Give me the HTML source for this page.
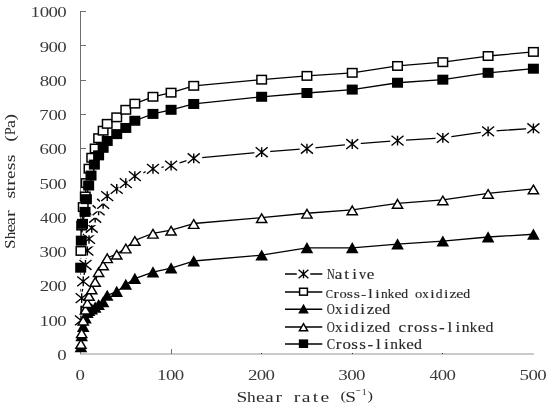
<!DOCTYPE html>
<html><head><meta charset="utf-8"><style>
html,body{margin:0;padding:0;background:#fff;width:550px;height:405px;overflow:hidden}
svg{display:block;will-change:transform}
</style></head><body>
<svg width="550" height="405" viewBox="0 0 550 405">
<rect width="550" height="405" fill="#fff"/>
<line x1="80.5" y1="11" x2="80.5" y2="354" stroke="#6e6e6e" stroke-width="1"/>
<line x1="80" y1="354" x2="534" y2="354" stroke="#959595" stroke-width="1"/>
<line x1="80" y1="319.5" x2="86" y2="319.5" stroke="#6e6e6e" stroke-width="1"/>
<line x1="80" y1="285.5" x2="86" y2="285.5" stroke="#6e6e6e" stroke-width="1"/>
<line x1="80" y1="251.5" x2="86" y2="251.5" stroke="#6e6e6e" stroke-width="1"/>
<line x1="80" y1="216.5" x2="86" y2="216.5" stroke="#6e6e6e" stroke-width="1"/>
<line x1="80" y1="182.5" x2="86" y2="182.5" stroke="#6e6e6e" stroke-width="1"/>
<line x1="80" y1="148.5" x2="86" y2="148.5" stroke="#6e6e6e" stroke-width="1"/>
<line x1="80" y1="114.5" x2="86" y2="114.5" stroke="#6e6e6e" stroke-width="1"/>
<line x1="80" y1="80.5" x2="86" y2="80.5" stroke="#6e6e6e" stroke-width="1"/>
<line x1="80" y1="45.5" x2="86" y2="45.5" stroke="#6e6e6e" stroke-width="1"/>
<line x1="80" y1="11.5" x2="86" y2="11.5" stroke="#6e6e6e" stroke-width="1"/>
<line x1="171.5" y1="349" x2="171.5" y2="354" stroke="#6e6e6e" stroke-width="1"/>
<rect x="261.0" y="353" width="1" height="1" fill="#333"/>
<rect x="352.0" y="353" width="1" height="1" fill="#333"/>
<rect x="442.0" y="353" width="1" height="1" fill="#333"/>
<path d="M80.95,320.44 L81.68,298.17 L83.22,281.39 L85.48,264.95 L87.38,250.56 L89.01,238.92 L91.73,227.75 L95.17,217.69 L98.62,210.29 L103.14,203.81 L107.22,196.11 L116.73,188.91 L125.79,183.09 L134.85,176.11 L152.96,168.91 L171.08,165.62 L193.73,158.30 L261.66,152.20 L306.95,148.71 L352.24,144.05 L397.53,140.62 L442.82,137.88 L488.11,131.37 L533.40,128.29" fill="none" stroke="#000" stroke-width="1.30" stroke-linejoin="round"/>
<path d="M80.95,250.91 L81.68,225.56 L83.22,207.07 L85.30,196.45 L86.30,183.09 L89.01,168.71 L91.73,157.75 L95.17,148.50 L98.62,138.22 L103.14,130.69 L107.22,123.84 L116.73,117.33 L125.79,109.80 L134.85,103.63 L152.96,96.78 L171.08,92.67 L193.73,85.82 L261.66,79.66 L306.95,75.89 L352.24,72.81 L397.53,65.96 L442.82,62.19 L488.11,56.02 L533.40,51.91" fill="none" stroke="#000" stroke-width="1.30" stroke-linejoin="round"/>
<path d="M80.95,346.81 L81.68,335.85 L83.22,326.60 L85.48,318.04 L87.38,312.56 L89.01,310.50 L91.73,309.13 L95.17,307.42 L98.62,304.68 L103.14,301.94 L107.22,295.43 L116.73,291.66 L125.79,284.47 L134.85,278.65 L152.96,272.14 L171.08,268.03 L193.73,261.01 L261.66,255.19 L306.95,247.82 L352.24,247.82 L397.53,244.06 L442.82,241.21 L488.11,237.00 L533.40,234.23" fill="none" stroke="#000" stroke-width="1.30" stroke-linejoin="round"/>
<path d="M80.95,343.38 L81.68,332.76 L83.22,320.09 L85.48,309.13 L87.38,302.62 L89.01,295.43 L91.73,288.93 L95.17,281.39 L98.62,271.63 L103.14,264.95 L107.22,257.76 L116.73,254.16 L125.79,248.00 L134.85,240.46 L152.96,233.27 L171.08,230.19 L193.73,223.51 L261.66,217.69 L306.95,213.23 L352.24,209.81 L397.53,203.30 L442.82,199.88 L488.11,193.37 L533.40,188.91" fill="none" stroke="#000" stroke-width="1.30" stroke-linejoin="round"/>
<path d="M80.68,267.69 L81.32,240.63 L82.49,223.85 L85.03,211.86 L86.39,199.19 L88.65,185.49 L91.01,175.56 L94.36,164.60 L98.62,155.35 L103.14,147.81 L107.22,140.96 L116.73,134.11 L125.79,127.95 L134.85,120.76 L152.96,113.91 L171.08,109.80 L193.73,103.97 L261.66,96.78 L306.95,93.01 L352.24,89.59 L397.53,82.74 L442.82,79.66 L488.11,72.81 L533.40,68.70" fill="none" stroke="#000" stroke-width="1.30" stroke-linejoin="round"/>
<rect x="73.65" y="313.94" width="15.80" height="14.00" fill="#fff"/><path d="M74.95,315.54 L86.95,325.33 M86.95,315.54 L74.95,325.33 M80.95,315.54 L80.95,325.33" stroke="#000" stroke-width="1.40" fill="none"/>
<rect x="74.38" y="291.67" width="15.80" height="14.00" fill="#fff"/><path d="M75.68,293.27 L87.68,303.07 M87.68,293.27 L75.68,303.07 M81.68,293.27 L81.68,303.07" stroke="#000" stroke-width="1.40" fill="none"/>
<rect x="75.92" y="274.89" width="15.80" height="14.00" fill="#fff"/><path d="M77.22,276.49 L89.22,286.29 M89.22,276.49 L77.22,286.29 M83.22,276.49 L83.22,286.29" stroke="#000" stroke-width="1.40" fill="none"/>
<rect x="78.18" y="258.45" width="15.80" height="14.00" fill="#fff"/><path d="M79.48,260.05 L91.48,269.85 M91.48,260.05 L79.48,269.85 M85.48,260.05 L85.48,269.85" stroke="#000" stroke-width="1.40" fill="none"/>
<rect x="80.08" y="244.06" width="15.80" height="14.00" fill="#fff"/><path d="M81.38,245.66 L93.38,255.47 M93.38,245.66 L81.38,255.47 M87.38,245.66 L87.38,255.47" stroke="#000" stroke-width="1.40" fill="none"/>
<rect x="81.71" y="232.42" width="15.80" height="14.00" fill="#fff"/><path d="M83.01,234.02 L95.01,243.82 M95.01,234.02 L83.01,243.82 M89.01,234.02 L89.01,243.82" stroke="#000" stroke-width="1.40" fill="none"/>
<rect x="84.43" y="221.25" width="15.80" height="14.00" fill="#fff"/><path d="M85.73,222.85 L97.73,232.65 M97.73,222.85 L85.73,232.65 M91.73,222.85 L91.73,232.65" stroke="#000" stroke-width="1.40" fill="none"/>
<rect x="87.87" y="211.19" width="15.80" height="14.00" fill="#fff"/><path d="M89.17,212.78 L101.17,222.59 M101.17,212.78 L89.17,222.59 M95.17,212.78 L95.17,222.59" stroke="#000" stroke-width="1.40" fill="none"/>
<rect x="91.32" y="203.79" width="15.80" height="14.00" fill="#fff"/><path d="M92.62,205.39 L104.62,215.19 M104.62,205.39 L92.62,215.19 M98.62,205.39 L98.62,215.19" stroke="#000" stroke-width="1.40" fill="none"/>
<rect x="95.84" y="197.31" width="15.80" height="14.00" fill="#fff"/><path d="M97.14,198.91 L109.14,208.71 M109.14,198.91 L97.14,208.71 M103.14,198.91 L103.14,208.71" stroke="#000" stroke-width="1.40" fill="none"/>
<rect x="99.92" y="189.61" width="15.80" height="14.00" fill="#fff"/><path d="M101.22,191.21 L113.22,201.01 M113.22,191.21 L101.22,201.01 M107.22,191.21 L107.22,201.01" stroke="#000" stroke-width="1.40" fill="none"/>
<rect x="109.43" y="182.41" width="15.80" height="14.00" fill="#fff"/><path d="M110.73,184.01 L122.73,193.81 M122.73,184.01 L110.73,193.81 M116.73,184.01 L116.73,193.81" stroke="#000" stroke-width="1.40" fill="none"/>
<rect x="118.49" y="176.59" width="15.80" height="14.00" fill="#fff"/><path d="M119.79,178.19 L131.79,187.99 M131.79,178.19 L119.79,187.99 M125.79,178.19 L125.79,187.99" stroke="#000" stroke-width="1.40" fill="none"/>
<rect x="127.55" y="169.61" width="15.80" height="14.00" fill="#fff"/><path d="M128.85,171.21 L140.85,181.01 M140.85,171.21 L128.85,181.01 M134.85,171.21 L134.85,181.01" stroke="#000" stroke-width="1.40" fill="none"/>
<rect x="145.66" y="162.41" width="15.80" height="14.00" fill="#fff"/><path d="M146.96,164.01 L158.96,173.81 M158.96,164.01 L146.96,173.81 M152.96,164.01 L152.96,173.81" stroke="#000" stroke-width="1.40" fill="none"/>
<rect x="163.78" y="159.12" width="15.80" height="14.00" fill="#fff"/><path d="M165.08,160.72 L177.08,170.52 M177.08,160.72 L165.08,170.52 M171.08,160.72 L171.08,170.52" stroke="#000" stroke-width="1.40" fill="none"/>
<rect x="186.43" y="151.80" width="15.80" height="14.00" fill="#fff"/><path d="M187.73,153.40 L199.73,163.20 M199.73,153.40 L187.73,163.20 M193.73,153.40 L193.73,163.20" stroke="#000" stroke-width="1.40" fill="none"/>
<rect x="254.36" y="145.70" width="15.80" height="14.00" fill="#fff"/><path d="M255.66,147.30 L267.66,157.10 M267.66,147.30 L255.66,157.10 M261.66,147.30 L261.66,157.10" stroke="#000" stroke-width="1.40" fill="none"/>
<rect x="299.65" y="142.21" width="15.80" height="14.00" fill="#fff"/><path d="M300.95,143.81 L312.95,153.61 M312.95,143.81 L300.95,153.61 M306.95,143.81 L306.95,153.61" stroke="#000" stroke-width="1.40" fill="none"/>
<rect x="344.94" y="137.55" width="15.80" height="14.00" fill="#fff"/><path d="M346.24,139.15 L358.24,148.95 M358.24,139.15 L346.24,148.95 M352.24,139.15 L352.24,148.95" stroke="#000" stroke-width="1.40" fill="none"/>
<rect x="390.23" y="134.12" width="15.80" height="14.00" fill="#fff"/><path d="M391.53,135.72 L403.53,145.52 M403.53,135.72 L391.53,145.52 M397.53,135.72 L397.53,145.52" stroke="#000" stroke-width="1.40" fill="none"/>
<rect x="435.52" y="131.38" width="15.80" height="14.00" fill="#fff"/><path d="M436.82,132.98 L448.82,142.78 M448.82,132.98 L436.82,142.78 M442.82,132.98 L442.82,142.78" stroke="#000" stroke-width="1.40" fill="none"/>
<rect x="480.81" y="124.87" width="15.80" height="14.00" fill="#fff"/><path d="M482.11,126.47 L494.11,136.27 M494.11,126.47 L482.11,136.27 M488.11,126.47 L488.11,136.27" stroke="#000" stroke-width="1.40" fill="none"/>
<rect x="526.10" y="121.79" width="15.80" height="14.00" fill="#fff"/><path d="M527.40,123.39 L539.40,133.19 M539.40,123.39 L527.40,133.19 M533.40,123.39 L533.40,133.19" stroke="#000" stroke-width="1.40" fill="none"/>
<rect x="76.20" y="246.66" width="9.50" height="8.50" fill="#fff" stroke="#000" stroke-width="1.50"/>
<rect x="76.93" y="221.31" width="9.50" height="8.50" fill="#fff" stroke="#000" stroke-width="1.50"/>
<rect x="78.47" y="202.82" width="9.50" height="8.50" fill="#fff" stroke="#000" stroke-width="1.50"/>
<rect x="80.55" y="192.20" width="9.50" height="8.50" fill="#fff" stroke="#000" stroke-width="1.50"/>
<rect x="81.55" y="178.84" width="9.50" height="8.50" fill="#fff" stroke="#000" stroke-width="1.50"/>
<rect x="84.26" y="164.46" width="9.50" height="8.50" fill="#fff" stroke="#000" stroke-width="1.50"/>
<rect x="86.98" y="153.50" width="9.50" height="8.50" fill="#fff" stroke="#000" stroke-width="1.50"/>
<rect x="90.42" y="144.25" width="9.50" height="8.50" fill="#fff" stroke="#000" stroke-width="1.50"/>
<rect x="93.87" y="133.97" width="9.50" height="8.50" fill="#fff" stroke="#000" stroke-width="1.50"/>
<rect x="98.39" y="126.44" width="9.50" height="8.50" fill="#fff" stroke="#000" stroke-width="1.50"/>
<rect x="102.47" y="119.59" width="9.50" height="8.50" fill="#fff" stroke="#000" stroke-width="1.50"/>
<rect x="111.98" y="113.08" width="9.50" height="8.50" fill="#fff" stroke="#000" stroke-width="1.50"/>
<rect x="121.04" y="105.55" width="9.50" height="8.50" fill="#fff" stroke="#000" stroke-width="1.50"/>
<rect x="130.10" y="99.38" width="9.50" height="8.50" fill="#fff" stroke="#000" stroke-width="1.50"/>
<rect x="148.21" y="92.53" width="9.50" height="8.50" fill="#fff" stroke="#000" stroke-width="1.50"/>
<rect x="166.33" y="88.42" width="9.50" height="8.50" fill="#fff" stroke="#000" stroke-width="1.50"/>
<rect x="188.98" y="81.57" width="9.50" height="8.50" fill="#fff" stroke="#000" stroke-width="1.50"/>
<rect x="256.91" y="75.41" width="9.50" height="8.50" fill="#fff" stroke="#000" stroke-width="1.50"/>
<rect x="302.20" y="71.64" width="9.50" height="8.50" fill="#fff" stroke="#000" stroke-width="1.50"/>
<rect x="347.49" y="68.56" width="9.50" height="8.50" fill="#fff" stroke="#000" stroke-width="1.50"/>
<rect x="392.78" y="61.71" width="9.50" height="8.50" fill="#fff" stroke="#000" stroke-width="1.50"/>
<rect x="438.07" y="57.94" width="9.50" height="8.50" fill="#fff" stroke="#000" stroke-width="1.50"/>
<rect x="483.36" y="51.77" width="9.50" height="8.50" fill="#fff" stroke="#000" stroke-width="1.50"/>
<rect x="528.65" y="47.66" width="9.50" height="8.50" fill="#fff" stroke="#000" stroke-width="1.50"/>
<polygon points="80.95,341.01 87.25,352.21 74.65,352.21" fill="#000"/>
<polygon points="81.68,330.05 87.98,341.25 75.38,341.25" fill="#000"/>
<polygon points="83.22,320.80 89.52,332.00 76.92,332.00" fill="#000"/>
<polygon points="85.48,312.24 91.78,323.44 79.18,323.44" fill="#000"/>
<polygon points="87.38,306.76 93.68,317.96 81.08,317.96" fill="#000"/>
<polygon points="89.01,304.70 95.31,315.90 82.71,315.90" fill="#000"/>
<polygon points="91.73,303.33 98.03,314.53 85.43,314.53" fill="#000"/>
<polygon points="95.17,301.62 101.47,312.82 88.87,312.82" fill="#000"/>
<polygon points="98.62,298.88 104.92,310.08 92.32,310.08" fill="#000"/>
<polygon points="103.14,296.14 109.44,307.34 96.84,307.34" fill="#000"/>
<polygon points="107.22,289.63 113.52,300.83 100.92,300.83" fill="#000"/>
<polygon points="116.73,285.86 123.03,297.06 110.43,297.06" fill="#000"/>
<polygon points="125.79,278.67 132.09,289.87 119.49,289.87" fill="#000"/>
<polygon points="134.85,272.85 141.15,284.05 128.55,284.05" fill="#000"/>
<polygon points="152.96,266.34 159.26,277.54 146.66,277.54" fill="#000"/>
<polygon points="171.08,262.23 177.38,273.43 164.78,273.43" fill="#000"/>
<polygon points="193.73,255.21 200.03,266.41 187.43,266.41" fill="#000"/>
<polygon points="261.66,249.39 267.96,260.59 255.36,260.59" fill="#000"/>
<polygon points="306.95,242.03 313.25,253.22 300.65,253.22" fill="#000"/>
<polygon points="352.24,242.03 358.54,253.22 345.94,253.22" fill="#000"/>
<polygon points="397.53,238.26 403.83,249.46 391.23,249.46" fill="#000"/>
<polygon points="442.82,235.41 449.12,246.61 436.52,246.61" fill="#000"/>
<polygon points="488.11,231.20 494.41,242.40 481.81,242.40" fill="#000"/>
<polygon points="533.40,228.43 539.70,239.63 527.10,239.63" fill="#000"/>
<polygon points="80.95,339.59 86.08,348.26 75.83,348.26" fill="#fff" stroke="#000" stroke-width="1.45" stroke-linejoin="miter"/>
<polygon points="81.68,328.98 86.80,337.64 76.56,337.64" fill="#fff" stroke="#000" stroke-width="1.45" stroke-linejoin="miter"/>
<polygon points="83.22,316.30 88.34,324.97 78.09,324.97" fill="#fff" stroke="#000" stroke-width="1.45" stroke-linejoin="miter"/>
<polygon points="85.48,305.34 90.60,314.01 80.36,314.01" fill="#fff" stroke="#000" stroke-width="1.45" stroke-linejoin="miter"/>
<polygon points="87.38,298.84 92.51,307.50 82.26,307.50" fill="#fff" stroke="#000" stroke-width="1.45" stroke-linejoin="miter"/>
<polygon points="89.01,291.64 94.14,300.31 83.89,300.31" fill="#fff" stroke="#000" stroke-width="1.45" stroke-linejoin="miter"/>
<polygon points="91.73,285.14 96.85,293.80 86.61,293.80" fill="#fff" stroke="#000" stroke-width="1.45" stroke-linejoin="miter"/>
<polygon points="95.17,277.60 100.30,286.26 90.05,286.26" fill="#fff" stroke="#000" stroke-width="1.45" stroke-linejoin="miter"/>
<polygon points="98.62,267.84 103.74,276.50 93.49,276.50" fill="#fff" stroke="#000" stroke-width="1.45" stroke-linejoin="miter"/>
<polygon points="103.14,261.16 108.27,269.82 98.02,269.82" fill="#fff" stroke="#000" stroke-width="1.45" stroke-linejoin="miter"/>
<polygon points="107.22,253.97 112.34,262.63 102.10,262.63" fill="#fff" stroke="#000" stroke-width="1.45" stroke-linejoin="miter"/>
<polygon points="116.73,250.37 121.85,259.04 111.61,259.04" fill="#fff" stroke="#000" stroke-width="1.45" stroke-linejoin="miter"/>
<polygon points="125.79,244.21 130.91,252.87 120.67,252.87" fill="#fff" stroke="#000" stroke-width="1.45" stroke-linejoin="miter"/>
<polygon points="134.85,236.67 139.97,245.34 129.73,245.34" fill="#fff" stroke="#000" stroke-width="1.45" stroke-linejoin="miter"/>
<polygon points="152.96,229.48 158.09,238.14 147.84,238.14" fill="#fff" stroke="#000" stroke-width="1.45" stroke-linejoin="miter"/>
<polygon points="171.08,226.40 176.20,235.06 165.96,235.06" fill="#fff" stroke="#000" stroke-width="1.45" stroke-linejoin="miter"/>
<polygon points="193.73,219.72 198.85,228.38 188.60,228.38" fill="#fff" stroke="#000" stroke-width="1.45" stroke-linejoin="miter"/>
<polygon points="261.66,213.90 266.78,222.56 256.54,222.56" fill="#fff" stroke="#000" stroke-width="1.45" stroke-linejoin="miter"/>
<polygon points="306.95,209.44 312.07,218.11 301.83,218.11" fill="#fff" stroke="#000" stroke-width="1.45" stroke-linejoin="miter"/>
<polygon points="352.24,206.02 357.36,214.68 347.12,214.68" fill="#fff" stroke="#000" stroke-width="1.45" stroke-linejoin="miter"/>
<polygon points="397.53,199.51 402.65,208.17 392.41,208.17" fill="#fff" stroke="#000" stroke-width="1.45" stroke-linejoin="miter"/>
<polygon points="442.82,196.09 447.94,204.75 437.70,204.75" fill="#fff" stroke="#000" stroke-width="1.45" stroke-linejoin="miter"/>
<polygon points="488.11,189.58 493.23,198.24 482.99,198.24" fill="#fff" stroke="#000" stroke-width="1.45" stroke-linejoin="miter"/>
<polygon points="533.40,185.13 538.52,193.79 528.28,193.79" fill="#fff" stroke="#000" stroke-width="1.45" stroke-linejoin="miter"/>
<rect x="75.18" y="262.69" width="11.00" height="10.00" fill="#000"/>
<rect x="75.82" y="235.63" width="11.00" height="10.00" fill="#000"/>
<rect x="76.99" y="218.85" width="11.00" height="10.00" fill="#000"/>
<rect x="79.53" y="206.86" width="11.00" height="10.00" fill="#000"/>
<rect x="80.89" y="194.19" width="11.00" height="10.00" fill="#000"/>
<rect x="83.15" y="180.49" width="11.00" height="10.00" fill="#000"/>
<rect x="85.51" y="170.56" width="11.00" height="10.00" fill="#000"/>
<rect x="88.86" y="159.60" width="11.00" height="10.00" fill="#000"/>
<rect x="93.12" y="150.35" width="11.00" height="10.00" fill="#000"/>
<rect x="97.64" y="142.81" width="11.00" height="10.00" fill="#000"/>
<rect x="101.72" y="135.96" width="11.00" height="10.00" fill="#000"/>
<rect x="111.23" y="129.11" width="11.00" height="10.00" fill="#000"/>
<rect x="120.29" y="122.95" width="11.00" height="10.00" fill="#000"/>
<rect x="129.35" y="115.76" width="11.00" height="10.00" fill="#000"/>
<rect x="147.46" y="108.91" width="11.00" height="10.00" fill="#000"/>
<rect x="165.58" y="104.80" width="11.00" height="10.00" fill="#000"/>
<rect x="188.23" y="98.97" width="11.00" height="10.00" fill="#000"/>
<rect x="256.16" y="91.78" width="11.00" height="10.00" fill="#000"/>
<rect x="301.45" y="88.01" width="11.00" height="10.00" fill="#000"/>
<rect x="346.74" y="84.59" width="11.00" height="10.00" fill="#000"/>
<rect x="392.03" y="77.74" width="11.00" height="10.00" fill="#000"/>
<rect x="437.32" y="74.66" width="11.00" height="10.00" fill="#000"/>
<rect x="482.61" y="67.81" width="11.00" height="10.00" fill="#000"/>
<rect x="527.90" y="63.70" width="11.00" height="10.00" fill="#000"/>
<line x1="285.0" y1="274.0" x2="322.3" y2="274.0" stroke="#000" stroke-width="1.5"/>
<rect x="296.75" y="268.50" width="13.50" height="11.00" fill="#fff"/><path d="M298.60,269.80 L308.40,278.20 M308.40,269.80 L298.60,278.20 M303.50,269.80 L303.50,278.20" stroke="#000" stroke-width="1.40" fill="none"/>
<text transform="translate(330.77,278.90) scale(0.778,1)" x="-4.99" y="0" font-family="Liberation Serif" font-size="13.70" fill="#2a2a2a" stroke="#2a2a2a" stroke-width="0.15">N</text>
<text transform="translate(338.71,278.90) scale(1.250,1)" x="-3.19" y="0" font-family="Liberation Serif" font-size="13.70" fill="#2a2a2a" stroke="#2a2a2a" stroke-width="0.15">a</text>
<text transform="translate(346.65,278.90) scale(1.250,1)" x="-1.93" y="0" font-family="Liberation Serif" font-size="13.70" fill="#2a2a2a" stroke="#2a2a2a" stroke-width="0.15">t</text>
<text transform="translate(354.59,278.90) scale(1.250,1)" x="-1.92" y="0" font-family="Liberation Serif" font-size="13.70" fill="#2a2a2a" stroke="#2a2a2a" stroke-width="0.15">i</text>
<text transform="translate(362.53,278.90) scale(1.043,1)" x="-3.42" y="0" font-family="Liberation Serif" font-size="13.70" fill="#2a2a2a" stroke="#2a2a2a" stroke-width="0.15">v</text>
<text transform="translate(370.47,278.90) scale(1.250,1)" x="-3.07" y="0" font-family="Liberation Serif" font-size="13.70" fill="#2a2a2a" stroke="#2a2a2a" stroke-width="0.15">e</text>
<line x1="285.0" y1="292.0" x2="322.3" y2="292.0" stroke="#000" stroke-width="1.5"/>
<rect x="299.60" y="288.25" width="7.80" height="6.90" fill="#fff" stroke="#000" stroke-width="1.50"/>
<text transform="translate(329.33,297.60) scale(0.853,1)" x="-4.15" y="0" font-family="Liberation Serif" font-size="12.70" fill="#2a2a2a" stroke="#2a2a2a" stroke-width="0.15">C</text>
<text transform="translate(336.20,297.60) scale(1.250,1)" x="-2.19" y="0" font-family="Liberation Serif" font-size="12.70" fill="#2a2a2a" stroke="#2a2a2a" stroke-width="0.15">r</text>
<text transform="translate(343.07,297.60) scale(1.149,1)" x="-3.17" y="0" font-family="Liberation Serif" font-size="12.70" fill="#2a2a2a" stroke="#2a2a2a" stroke-width="0.15">o</text>
<text transform="translate(349.94,297.60) scale(1.250,1)" x="-2.50" y="0" font-family="Liberation Serif" font-size="12.70" fill="#2a2a2a" stroke="#2a2a2a" stroke-width="0.15">s</text>
<text transform="translate(356.81,297.60) scale(1.250,1)" x="-2.50" y="0" font-family="Liberation Serif" font-size="12.70" fill="#2a2a2a" stroke="#2a2a2a" stroke-width="0.15">s</text>
<text transform="translate(363.69,297.60) scale(1.250,1)" x="-2.12" y="0" font-family="Liberation Serif" font-size="12.70" fill="#2a2a2a" stroke="#2a2a2a" stroke-width="0.15">-</text>
<text transform="translate(370.55,297.60) scale(1.250,1)" x="-1.76" y="0" font-family="Liberation Serif" font-size="12.70" fill="#2a2a2a" stroke="#2a2a2a" stroke-width="0.15">l</text>
<text transform="translate(377.42,297.60) scale(1.250,1)" x="-1.78" y="0" font-family="Liberation Serif" font-size="12.70" fill="#2a2a2a" stroke="#2a2a2a" stroke-width="0.15">i</text>
<text transform="translate(384.29,297.60) scale(1.054,1)" x="-3.22" y="0" font-family="Liberation Serif" font-size="12.70" fill="#2a2a2a" stroke="#2a2a2a" stroke-width="0.15">n</text>
<text transform="translate(391.16,297.60) scale(1.012,1)" x="-3.30" y="0" font-family="Liberation Serif" font-size="12.70" fill="#2a2a2a" stroke="#2a2a2a" stroke-width="0.15">k</text>
<text transform="translate(398.03,297.60) scale(1.250,1)" x="-2.85" y="0" font-family="Liberation Serif" font-size="12.70" fill="#2a2a2a" stroke="#2a2a2a" stroke-width="0.15">e</text>
<text transform="translate(404.90,297.60) scale(1.078,1)" x="-3.33" y="0" font-family="Liberation Serif" font-size="12.70" fill="#2a2a2a" stroke="#2a2a2a" stroke-width="0.15">d</text>
<text transform="translate(418.64,297.60) scale(1.149,1)" x="-3.17" y="0" font-family="Liberation Serif" font-size="12.70" fill="#2a2a2a" stroke="#2a2a2a" stroke-width="0.15">o</text>
<text transform="translate(425.51,297.60) scale(1.016,1)" x="-3.15" y="0" font-family="Liberation Serif" font-size="12.70" fill="#2a2a2a" stroke="#2a2a2a" stroke-width="0.15">x</text>
<text transform="translate(432.38,297.60) scale(1.250,1)" x="-1.78" y="0" font-family="Liberation Serif" font-size="12.70" fill="#2a2a2a" stroke="#2a2a2a" stroke-width="0.15">i</text>
<text transform="translate(439.25,297.60) scale(1.078,1)" x="-3.33" y="0" font-family="Liberation Serif" font-size="12.70" fill="#2a2a2a" stroke="#2a2a2a" stroke-width="0.15">d</text>
<text transform="translate(446.12,297.60) scale(1.250,1)" x="-1.78" y="0" font-family="Liberation Serif" font-size="12.70" fill="#2a2a2a" stroke="#2a2a2a" stroke-width="0.15">i</text>
<text transform="translate(453.00,297.60) scale(1.250,1)" x="-2.81" y="0" font-family="Liberation Serif" font-size="12.70" fill="#2a2a2a" stroke="#2a2a2a" stroke-width="0.15">z</text>
<text transform="translate(459.87,297.60) scale(1.250,1)" x="-2.85" y="0" font-family="Liberation Serif" font-size="12.70" fill="#2a2a2a" stroke="#2a2a2a" stroke-width="0.15">e</text>
<text transform="translate(466.74,297.60) scale(1.078,1)" x="-3.33" y="0" font-family="Liberation Serif" font-size="12.70" fill="#2a2a2a" stroke="#2a2a2a" stroke-width="0.15">d</text>
<line x1="285.0" y1="309.2" x2="322.3" y2="309.2" stroke="#000" stroke-width="1.5"/>
<polygon points="303.50,303.70 308.80,313.50 298.20,313.50" fill="#000"/>
<text transform="translate(330.77,314.10) scale(0.815,1)" x="-4.95" y="0" font-family="Liberation Serif" font-size="13.70" fill="#2a2a2a" stroke="#2a2a2a" stroke-width="0.15">O</text>
<text transform="translate(338.71,314.10) scale(1.089,1)" x="-3.40" y="0" font-family="Liberation Serif" font-size="13.70" fill="#2a2a2a" stroke="#2a2a2a" stroke-width="0.15">x</text>
<text transform="translate(346.65,314.10) scale(1.250,1)" x="-1.92" y="0" font-family="Liberation Serif" font-size="13.70" fill="#2a2a2a" stroke="#2a2a2a" stroke-width="0.15">i</text>
<text transform="translate(354.59,314.10) scale(1.155,1)" x="-3.59" y="0" font-family="Liberation Serif" font-size="13.70" fill="#2a2a2a" stroke="#2a2a2a" stroke-width="0.15">d</text>
<text transform="translate(362.53,314.10) scale(1.250,1)" x="-1.92" y="0" font-family="Liberation Serif" font-size="13.70" fill="#2a2a2a" stroke="#2a2a2a" stroke-width="0.15">i</text>
<text transform="translate(370.47,314.10) scale(1.250,1)" x="-3.03" y="0" font-family="Liberation Serif" font-size="13.70" fill="#2a2a2a" stroke="#2a2a2a" stroke-width="0.15">z</text>
<text transform="translate(378.41,314.10) scale(1.250,1)" x="-3.07" y="0" font-family="Liberation Serif" font-size="13.70" fill="#2a2a2a" stroke="#2a2a2a" stroke-width="0.15">e</text>
<text transform="translate(386.35,314.10) scale(1.155,1)" x="-3.59" y="0" font-family="Liberation Serif" font-size="13.70" fill="#2a2a2a" stroke="#2a2a2a" stroke-width="0.15">d</text>
<line x1="285.0" y1="327.0" x2="322.3" y2="327.0" stroke="#000" stroke-width="1.5"/>
<polygon points="303.50,323.71 307.62,330.77 299.38,330.77" fill="#fff" stroke="#000" stroke-width="1.45" stroke-linejoin="miter"/>
<text transform="translate(330.77,331.90) scale(0.815,1)" x="-4.95" y="0" font-family="Liberation Serif" font-size="13.70" fill="#2a2a2a" stroke="#2a2a2a" stroke-width="0.15">O</text>
<text transform="translate(338.71,331.90) scale(1.089,1)" x="-3.40" y="0" font-family="Liberation Serif" font-size="13.70" fill="#2a2a2a" stroke="#2a2a2a" stroke-width="0.15">x</text>
<text transform="translate(346.65,331.90) scale(1.250,1)" x="-1.92" y="0" font-family="Liberation Serif" font-size="13.70" fill="#2a2a2a" stroke="#2a2a2a" stroke-width="0.15">i</text>
<text transform="translate(354.59,331.90) scale(1.155,1)" x="-3.59" y="0" font-family="Liberation Serif" font-size="13.70" fill="#2a2a2a" stroke="#2a2a2a" stroke-width="0.15">d</text>
<text transform="translate(362.53,331.90) scale(1.250,1)" x="-1.92" y="0" font-family="Liberation Serif" font-size="13.70" fill="#2a2a2a" stroke="#2a2a2a" stroke-width="0.15">i</text>
<text transform="translate(370.47,331.90) scale(1.250,1)" x="-3.03" y="0" font-family="Liberation Serif" font-size="13.70" fill="#2a2a2a" stroke="#2a2a2a" stroke-width="0.15">z</text>
<text transform="translate(378.41,331.90) scale(1.250,1)" x="-3.07" y="0" font-family="Liberation Serif" font-size="13.70" fill="#2a2a2a" stroke="#2a2a2a" stroke-width="0.15">e</text>
<text transform="translate(386.35,331.90) scale(1.155,1)" x="-3.59" y="0" font-family="Liberation Serif" font-size="13.70" fill="#2a2a2a" stroke="#2a2a2a" stroke-width="0.15">d</text>
<text transform="translate(402.23,331.90) scale(1.250,1)" x="-3.09" y="0" font-family="Liberation Serif" font-size="13.70" fill="#2a2a2a" stroke="#2a2a2a" stroke-width="0.15">c</text>
<text transform="translate(410.17,331.90) scale(1.250,1)" x="-2.36" y="0" font-family="Liberation Serif" font-size="13.70" fill="#2a2a2a" stroke="#2a2a2a" stroke-width="0.15">r</text>
<text transform="translate(418.11,331.90) scale(1.231,1)" x="-3.42" y="0" font-family="Liberation Serif" font-size="13.70" fill="#2a2a2a" stroke="#2a2a2a" stroke-width="0.15">o</text>
<text transform="translate(426.05,331.90) scale(1.250,1)" x="-2.70" y="0" font-family="Liberation Serif" font-size="13.70" fill="#2a2a2a" stroke="#2a2a2a" stroke-width="0.15">s</text>
<text transform="translate(433.99,331.90) scale(1.250,1)" x="-2.70" y="0" font-family="Liberation Serif" font-size="13.70" fill="#2a2a2a" stroke="#2a2a2a" stroke-width="0.15">s</text>
<text transform="translate(441.93,331.90) scale(1.250,1)" x="-2.29" y="0" font-family="Liberation Serif" font-size="13.70" fill="#2a2a2a" stroke="#2a2a2a" stroke-width="0.15">-</text>
<text transform="translate(449.87,331.90) scale(1.250,1)" x="-1.90" y="0" font-family="Liberation Serif" font-size="13.70" fill="#2a2a2a" stroke="#2a2a2a" stroke-width="0.15">l</text>
<text transform="translate(457.81,331.90) scale(1.250,1)" x="-1.92" y="0" font-family="Liberation Serif" font-size="13.70" fill="#2a2a2a" stroke="#2a2a2a" stroke-width="0.15">i</text>
<text transform="translate(465.75,331.90) scale(1.129,1)" x="-3.48" y="0" font-family="Liberation Serif" font-size="13.70" fill="#2a2a2a" stroke="#2a2a2a" stroke-width="0.15">n</text>
<text transform="translate(473.69,331.90) scale(1.085,1)" x="-3.56" y="0" font-family="Liberation Serif" font-size="13.70" fill="#2a2a2a" stroke="#2a2a2a" stroke-width="0.15">k</text>
<text transform="translate(481.63,331.90) scale(1.250,1)" x="-3.07" y="0" font-family="Liberation Serif" font-size="13.70" fill="#2a2a2a" stroke="#2a2a2a" stroke-width="0.15">e</text>
<text transform="translate(489.57,331.90) scale(1.155,1)" x="-3.59" y="0" font-family="Liberation Serif" font-size="13.70" fill="#2a2a2a" stroke="#2a2a2a" stroke-width="0.15">d</text>
<line x1="285.0" y1="344.0" x2="322.3" y2="344.0" stroke="#000" stroke-width="1.5"/>
<rect x="298.85" y="339.40" width="9.30" height="8.60" fill="#000"/>
<text transform="translate(330.77,348.90) scale(0.914,1)" x="-4.47" y="0" font-family="Liberation Serif" font-size="13.70" fill="#2a2a2a" stroke="#2a2a2a" stroke-width="0.15">C</text>
<text transform="translate(338.71,348.90) scale(1.250,1)" x="-2.36" y="0" font-family="Liberation Serif" font-size="13.70" fill="#2a2a2a" stroke="#2a2a2a" stroke-width="0.15">r</text>
<text transform="translate(346.65,348.90) scale(1.231,1)" x="-3.42" y="0" font-family="Liberation Serif" font-size="13.70" fill="#2a2a2a" stroke="#2a2a2a" stroke-width="0.15">o</text>
<text transform="translate(354.59,348.90) scale(1.250,1)" x="-2.70" y="0" font-family="Liberation Serif" font-size="13.70" fill="#2a2a2a" stroke="#2a2a2a" stroke-width="0.15">s</text>
<text transform="translate(362.53,348.90) scale(1.250,1)" x="-2.70" y="0" font-family="Liberation Serif" font-size="13.70" fill="#2a2a2a" stroke="#2a2a2a" stroke-width="0.15">s</text>
<text transform="translate(370.47,348.90) scale(1.250,1)" x="-2.29" y="0" font-family="Liberation Serif" font-size="13.70" fill="#2a2a2a" stroke="#2a2a2a" stroke-width="0.15">-</text>
<text transform="translate(378.41,348.90) scale(1.250,1)" x="-1.90" y="0" font-family="Liberation Serif" font-size="13.70" fill="#2a2a2a" stroke="#2a2a2a" stroke-width="0.15">l</text>
<text transform="translate(386.35,348.90) scale(1.250,1)" x="-1.92" y="0" font-family="Liberation Serif" font-size="13.70" fill="#2a2a2a" stroke="#2a2a2a" stroke-width="0.15">i</text>
<text transform="translate(394.29,348.90) scale(1.129,1)" x="-3.48" y="0" font-family="Liberation Serif" font-size="13.70" fill="#2a2a2a" stroke="#2a2a2a" stroke-width="0.15">n</text>
<text transform="translate(402.23,348.90) scale(1.085,1)" x="-3.56" y="0" font-family="Liberation Serif" font-size="13.70" fill="#2a2a2a" stroke="#2a2a2a" stroke-width="0.15">k</text>
<text transform="translate(410.17,348.90) scale(1.250,1)" x="-3.07" y="0" font-family="Liberation Serif" font-size="13.70" fill="#2a2a2a" stroke="#2a2a2a" stroke-width="0.15">e</text>
<text transform="translate(418.11,348.90) scale(1.155,1)" x="-3.59" y="0" font-family="Liberation Serif" font-size="13.70" fill="#2a2a2a" stroke="#2a2a2a" stroke-width="0.15">d</text>
<text transform="translate(62.00,359.80) scale(1.294,1)" x="-3.65" y="0" font-family="Liberation Serif" font-size="14.60" fill="#3a3a3a">0</text>
<text transform="translate(44.40,325.55) scale(1.300,1)" x="-3.85" y="0" font-family="Liberation Serif" font-size="14.60" fill="#3a3a3a">1</text>
<text transform="translate(53.20,325.55) scale(1.294,1)" x="-3.65" y="0" font-family="Liberation Serif" font-size="14.60" fill="#3a3a3a">0</text>
<text transform="translate(62.00,325.55) scale(1.294,1)" x="-3.65" y="0" font-family="Liberation Serif" font-size="14.60" fill="#3a3a3a">0</text>
<text transform="translate(44.40,291.30) scale(1.300,1)" x="-3.57" y="0" font-family="Liberation Serif" font-size="14.60" fill="#3a3a3a">2</text>
<text transform="translate(53.20,291.30) scale(1.294,1)" x="-3.65" y="0" font-family="Liberation Serif" font-size="14.60" fill="#3a3a3a">0</text>
<text transform="translate(62.00,291.30) scale(1.294,1)" x="-3.65" y="0" font-family="Liberation Serif" font-size="14.60" fill="#3a3a3a">0</text>
<text transform="translate(44.40,257.05) scale(1.300,1)" x="-3.71" y="0" font-family="Liberation Serif" font-size="14.60" fill="#3a3a3a">3</text>
<text transform="translate(53.20,257.05) scale(1.294,1)" x="-3.65" y="0" font-family="Liberation Serif" font-size="14.60" fill="#3a3a3a">0</text>
<text transform="translate(62.00,257.05) scale(1.294,1)" x="-3.65" y="0" font-family="Liberation Serif" font-size="14.60" fill="#3a3a3a">0</text>
<text transform="translate(44.40,222.80) scale(1.180,1)" x="-3.68" y="0" font-family="Liberation Serif" font-size="14.60" fill="#3a3a3a">4</text>
<text transform="translate(53.20,222.80) scale(1.294,1)" x="-3.65" y="0" font-family="Liberation Serif" font-size="14.60" fill="#3a3a3a">0</text>
<text transform="translate(62.00,222.80) scale(1.294,1)" x="-3.65" y="0" font-family="Liberation Serif" font-size="14.60" fill="#3a3a3a">0</text>
<text transform="translate(44.40,188.55) scale(1.300,1)" x="-3.79" y="0" font-family="Liberation Serif" font-size="14.60" fill="#3a3a3a">5</text>
<text transform="translate(53.20,188.55) scale(1.294,1)" x="-3.65" y="0" font-family="Liberation Serif" font-size="14.60" fill="#3a3a3a">0</text>
<text transform="translate(62.00,188.55) scale(1.294,1)" x="-3.65" y="0" font-family="Liberation Serif" font-size="14.60" fill="#3a3a3a">0</text>
<text transform="translate(44.40,154.30) scale(1.284,1)" x="-3.75" y="0" font-family="Liberation Serif" font-size="14.60" fill="#3a3a3a">6</text>
<text transform="translate(53.20,154.30) scale(1.294,1)" x="-3.65" y="0" font-family="Liberation Serif" font-size="14.60" fill="#3a3a3a">0</text>
<text transform="translate(62.00,154.30) scale(1.294,1)" x="-3.65" y="0" font-family="Liberation Serif" font-size="14.60" fill="#3a3a3a">0</text>
<text transform="translate(44.40,120.05) scale(1.300,1)" x="-3.92" y="0" font-family="Liberation Serif" font-size="14.60" fill="#3a3a3a">7</text>
<text transform="translate(53.20,120.05) scale(1.294,1)" x="-3.65" y="0" font-family="Liberation Serif" font-size="14.60" fill="#3a3a3a">0</text>
<text transform="translate(62.00,120.05) scale(1.294,1)" x="-3.65" y="0" font-family="Liberation Serif" font-size="14.60" fill="#3a3a3a">0</text>
<text transform="translate(44.40,85.80) scale(1.294,1)" x="-3.65" y="0" font-family="Liberation Serif" font-size="14.60" fill="#3a3a3a">8</text>
<text transform="translate(53.20,85.80) scale(1.294,1)" x="-3.65" y="0" font-family="Liberation Serif" font-size="14.60" fill="#3a3a3a">0</text>
<text transform="translate(62.00,85.80) scale(1.294,1)" x="-3.65" y="0" font-family="Liberation Serif" font-size="14.60" fill="#3a3a3a">0</text>
<text transform="translate(44.40,51.55) scale(1.285,1)" x="-3.59" y="0" font-family="Liberation Serif" font-size="14.60" fill="#3a3a3a">9</text>
<text transform="translate(53.20,51.55) scale(1.294,1)" x="-3.65" y="0" font-family="Liberation Serif" font-size="14.60" fill="#3a3a3a">0</text>
<text transform="translate(62.00,51.55) scale(1.294,1)" x="-3.65" y="0" font-family="Liberation Serif" font-size="14.60" fill="#3a3a3a">0</text>
<text transform="translate(35.60,17.30) scale(1.300,1)" x="-3.85" y="0" font-family="Liberation Serif" font-size="14.60" fill="#3a3a3a">1</text>
<text transform="translate(44.40,17.30) scale(1.294,1)" x="-3.65" y="0" font-family="Liberation Serif" font-size="14.60" fill="#3a3a3a">0</text>
<text transform="translate(53.20,17.30) scale(1.294,1)" x="-3.65" y="0" font-family="Liberation Serif" font-size="14.60" fill="#3a3a3a">0</text>
<text transform="translate(62.00,17.30) scale(1.294,1)" x="-3.65" y="0" font-family="Liberation Serif" font-size="14.60" fill="#3a3a3a">0</text>
<text transform="translate(80.20,380.00) scale(1.294,1)" x="-3.65" y="0" font-family="Liberation Serif" font-size="14.60" fill="#3a3a3a">0</text>
<text transform="translate(161.98,380.00) scale(1.300,1)" x="-3.85" y="0" font-family="Liberation Serif" font-size="14.60" fill="#3a3a3a">1</text>
<text transform="translate(170.78,380.00) scale(1.294,1)" x="-3.65" y="0" font-family="Liberation Serif" font-size="14.60" fill="#3a3a3a">0</text>
<text transform="translate(179.58,380.00) scale(1.294,1)" x="-3.65" y="0" font-family="Liberation Serif" font-size="14.60" fill="#3a3a3a">0</text>
<text transform="translate(252.56,380.00) scale(1.300,1)" x="-3.57" y="0" font-family="Liberation Serif" font-size="14.60" fill="#3a3a3a">2</text>
<text transform="translate(261.36,380.00) scale(1.294,1)" x="-3.65" y="0" font-family="Liberation Serif" font-size="14.60" fill="#3a3a3a">0</text>
<text transform="translate(270.16,380.00) scale(1.294,1)" x="-3.65" y="0" font-family="Liberation Serif" font-size="14.60" fill="#3a3a3a">0</text>
<text transform="translate(343.14,380.00) scale(1.300,1)" x="-3.71" y="0" font-family="Liberation Serif" font-size="14.60" fill="#3a3a3a">3</text>
<text transform="translate(351.94,380.00) scale(1.294,1)" x="-3.65" y="0" font-family="Liberation Serif" font-size="14.60" fill="#3a3a3a">0</text>
<text transform="translate(360.74,380.00) scale(1.294,1)" x="-3.65" y="0" font-family="Liberation Serif" font-size="14.60" fill="#3a3a3a">0</text>
<text transform="translate(433.72,380.00) scale(1.180,1)" x="-3.68" y="0" font-family="Liberation Serif" font-size="14.60" fill="#3a3a3a">4</text>
<text transform="translate(442.52,380.00) scale(1.294,1)" x="-3.65" y="0" font-family="Liberation Serif" font-size="14.60" fill="#3a3a3a">0</text>
<text transform="translate(451.32,380.00) scale(1.294,1)" x="-3.65" y="0" font-family="Liberation Serif" font-size="14.60" fill="#3a3a3a">0</text>
<text transform="translate(524.30,380.00) scale(1.300,1)" x="-3.79" y="0" font-family="Liberation Serif" font-size="14.60" fill="#3a3a3a">5</text>
<text transform="translate(533.10,380.00) scale(1.294,1)" x="-3.65" y="0" font-family="Liberation Serif" font-size="14.60" fill="#3a3a3a">0</text>
<text transform="translate(541.90,380.00) scale(1.294,1)" x="-3.65" y="0" font-family="Liberation Serif" font-size="14.60" fill="#3a3a3a">0</text>
<text transform="translate(242.00,401.70) scale(1.346,1)" x="-4.04" y="0" font-family="Liberation Serif" font-size="14.40" fill="#2a2a2a">S</text>
<text transform="translate(251.20,401.70) scale(1.205,1)" x="-3.58" y="0" font-family="Liberation Serif" font-size="14.40" fill="#2a2a2a">h</text>
<text transform="translate(260.40,401.70) scale(1.360,1)" x="-3.23" y="0" font-family="Liberation Serif" font-size="14.40" fill="#2a2a2a">e</text>
<text transform="translate(269.60,401.70) scale(1.360,1)" x="-3.35" y="0" font-family="Liberation Serif" font-size="14.40" fill="#2a2a2a">a</text>
<text transform="translate(278.80,401.70) scale(1.360,1)" x="-2.48" y="0" font-family="Liberation Serif" font-size="14.40" fill="#2a2a2a">r</text>
<text transform="translate(297.20,401.70) scale(1.360,1)" x="-2.48" y="0" font-family="Liberation Serif" font-size="14.40" fill="#2a2a2a">r</text>
<text transform="translate(306.40,401.70) scale(1.360,1)" x="-3.35" y="0" font-family="Liberation Serif" font-size="14.40" fill="#2a2a2a">a</text>
<text transform="translate(315.60,401.70) scale(1.360,1)" x="-2.03" y="0" font-family="Liberation Serif" font-size="14.40" fill="#2a2a2a">t</text>
<text transform="translate(324.80,401.70) scale(1.360,1)" x="-3.23" y="0" font-family="Liberation Serif" font-size="14.40" fill="#2a2a2a">e</text>
<text transform="translate(343.30,399.50) scale(1.250,1)" x="-2.28" y="0" font-family="Liberation Serif" font-size="13.20" fill="#2a2a2a">(</text>
<text transform="translate(350.70,401.70) scale(1.300,1)" x="-4.15" y="0" font-family="Liberation Serif" font-size="14.80" fill="#2a2a2a">S</text>
<text transform="translate(358.40,393.00) scale(1.700,1)" x="-1.50" y="0" font-family="Liberation Serif" font-size="9.00" fill="#2a2a2a">-</text>
<text transform="translate(364.30,394.70) scale(1.200,1)" x="-2.16" y="0" font-family="Liberation Serif" font-size="8.20" fill="#2a2a2a">1</text>
<text transform="translate(370.20,399.50) scale(1.250,1)" x="-2.12" y="0" font-family="Liberation Serif" font-size="13.20" fill="#2a2a2a">)</text>
<text transform="translate(15.0,244.20) rotate(-90) scale(1.251,1.150)" x="-3.73" y="0" font-family="Liberation Serif" font-size="13.30" fill="#2a2a2a">S</text>
<text transform="translate(15.0,235.60) rotate(-90) scale(1.121,1.150)" x="-3.30" y="0" font-family="Liberation Serif" font-size="13.30" fill="#2a2a2a">h</text>
<text transform="translate(15.0,228.10) rotate(-90) scale(1.444,1.150)" x="-2.98" y="0" font-family="Liberation Serif" font-size="13.30" fill="#2a2a2a">e</text>
<text transform="translate(15.0,221.10) rotate(-90) scale(1.353,1.150)" x="-3.09" y="0" font-family="Liberation Serif" font-size="13.30" fill="#2a2a2a">a</text>
<text transform="translate(15.0,213.70) rotate(-90) scale(1.500,1.150)" x="-2.29" y="0" font-family="Liberation Serif" font-size="13.30" fill="#2a2a2a">r</text>
<text transform="translate(15.0,194.50) rotate(-90) scale(1.500,1.150)" x="-2.62" y="0" font-family="Liberation Serif" font-size="13.30" fill="#2a2a2a">s</text>
<text transform="translate(15.0,188.60) rotate(-90) scale(1.500,1.150)" x="-1.87" y="0" font-family="Liberation Serif" font-size="13.30" fill="#2a2a2a">t</text>
<text transform="translate(15.0,182.40) rotate(-90) scale(1.500,1.150)" x="-2.29" y="0" font-family="Liberation Serif" font-size="13.30" fill="#2a2a2a">r</text>
<text transform="translate(15.0,174.70) rotate(-90) scale(1.444,1.150)" x="-2.98" y="0" font-family="Liberation Serif" font-size="13.30" fill="#2a2a2a">e</text>
<text transform="translate(15.0,166.40) rotate(-90) scale(1.500,1.150)" x="-2.62" y="0" font-family="Liberation Serif" font-size="13.30" fill="#2a2a2a">s</text>
<text transform="translate(15.0,158.40) rotate(-90) scale(1.500,1.150)" x="-2.62" y="0" font-family="Liberation Serif" font-size="13.30" fill="#2a2a2a">s</text>
<text transform="translate(15.0,138.40) rotate(-90) scale(1.500,1.150)" x="-2.29" y="0" font-family="Liberation Serif" font-size="13.30" fill="#2a2a2a">(</text>
<text transform="translate(15.0,131.40) rotate(-90) scale(1.097,1.150)" x="-3.62" y="0" font-family="Liberation Serif" font-size="13.30" fill="#2a2a2a">P</text>
<text transform="translate(15.0,123.80) rotate(-90) scale(1.353,1.150)" x="-3.09" y="0" font-family="Liberation Serif" font-size="13.30" fill="#2a2a2a">a</text>
<text transform="translate(15.0,117.40) rotate(-90) scale(1.500,1.150)" x="-2.14" y="0" font-family="Liberation Serif" font-size="13.30" fill="#2a2a2a">)</text>
</svg>
</body></html>
